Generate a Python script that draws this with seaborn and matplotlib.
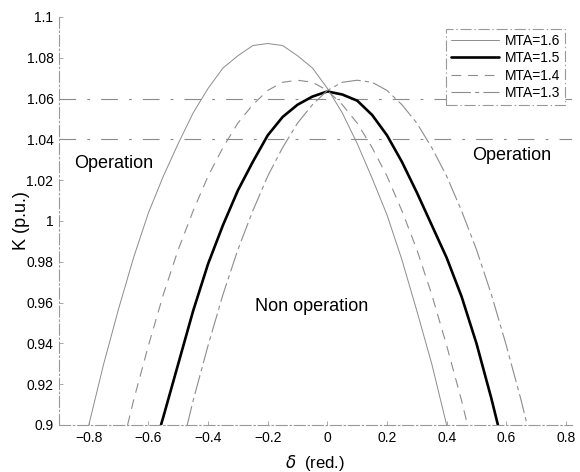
import matplotlib
matplotlib.use("Agg")
import matplotlib.pyplot as plt
import numpy as np
import pandas as pd
import seaborn as sns

# Load-angle grid (rad.) and K (p.u.) for each MTA setting
delta_16 = [-0.80, -0.75, -0.70, -0.65, -0.60, -0.55, -0.50, -0.45, -0.40, -0.35, -0.30,
            -0.25, -0.20, -0.15, -0.10, -0.05, 0.00, 0.05, 0.10, 0.15, 0.20, 0.25, 0.30,
            0.35, 0.40]
k_16 = [0.900, 0.930, 0.957, 0.982, 1.004, 1.022, 1.038, 1.053, 1.065, 1.075, 1.081,
        1.086, 1.087, 1.086, 1.081, 1.075, 1.065, 1.053, 1.038, 1.021, 1.003, 0.981, 0.956,
        0.930, 0.900]

delta_15 = [-0.558, -0.55, -0.50, -0.45, -0.40, -0.35, -0.30, -0.25, -0.20, -0.15, -0.10,
            -0.05, 0.00, 0.05, 0.10, 0.15, 0.20, 0.25, 0.30, 0.35, 0.40, 0.45, 0.50, 0.55,
            0.572]
k_15 = [0.900, 0.904, 0.930, 0.956, 0.979, 0.998, 1.015, 1.029, 1.042, 1.051, 1.057,
        1.061, 1.0635, 1.062, 1.059, 1.052, 1.042, 1.029, 1.014, 0.998, 0.982, 0.963, 0.940,
        0.913, 0.900]

delta_14 = [-0.67, -0.65, -0.60, -0.55, -0.50, -0.45, -0.40, -0.35, -0.30, -0.25, -0.20,
            -0.15, -0.10, -0.05, 0.00, 0.05, 0.10, 0.15, 0.20, 0.25, 0.30, 0.35, 0.40, 0.45,
            0.47]
k_14 = [0.900, 0.912, 0.939, 0.964, 0.986, 1.005, 1.022, 1.036, 1.048, 1.057, 1.064,
        1.068, 1.069, 1.068, 1.064, 1.057, 1.048, 1.036, 1.022, 1.005, 0.986, 0.964, 0.939,
        0.912, 0.900]

delta_13 = [-0.47, -0.45, -0.40, -0.35, -0.30, -0.25, -0.20, -0.15, -0.10, -0.05, 0.00,
            0.05, 0.10, 0.15, 0.20, 0.25, 0.30, 0.35, 0.40, 0.45, 0.50, 0.55, 0.60, 0.65,
            0.67]
k_13 = [0.900, 0.912, 0.939, 0.964, 0.986, 1.005, 1.022, 1.036, 1.048, 1.057, 1.064,
        1.068, 1.069, 1.068, 1.064, 1.057, 1.048, 1.036, 1.022, 1.005, 0.986, 0.964, 0.939,
        0.912, 0.900]

labels = ["MTA=1.6", "MTA=1.5", "MTA=1.4", "MTA=1.3"]
thresholds = [1.06, 1.04]
x_ticks = [-0.8, -0.6, -0.4, -0.2, 0, 0.2, 0.4, 0.6, 0.8]
y_ticks = [0.9, 0.92, 0.94, 0.96, 0.98, 1.0, 1.02, 1.04, 1.06, 1.08, 1.1]

sns.set_style("ticks")
plt.rcParams["font.family"] = ["Liberation Sans", "DejaVu Sans"]
plt.rcParams["lines.scale_dashes"] = False
plt.rcParams["text.color"] = "black"
plt.rcParams["axes.labelcolor"] = "black"
plt.rcParams["xtick.labelcolor"] = "black"
plt.rcParams["ytick.labelcolor"] = "black"

fig = plt.figure(figsize=(5.8, 4.72), dpi=100)
ax = fig.add_axes([0.1017, 0.0996, 0.8843, 0.8644])

curves = [
    (delta_16, k_16, dict(color="#8c8c8c", lw=0.7, ls="-")),
    (delta_15, k_15, dict(color="black", lw=1.9, ls="-")),
    (delta_14, k_14, dict(color="#8c8c8c", lw=0.8, ls=(0, (7, 5)))),
    (delta_13, k_13, dict(color="#8c8c8c", lw=0.8, ls=(0, (14, 3, 3, 3)))),
]
for (d, k, style), lab in zip(curves, labels):
    df = pd.DataFrame({"delta": d, "K": k})
    sns.lineplot(data=df, x="delta", y="K", ax=ax, sort=False, estimator=None,
                 color=style["color"], linewidth=style["lw"], linestyle=style["ls"],
                 label=lab)

for t in thresholds:
    ax.axhline(t, color="#8a8a8a", lw=0.8, ls=(0, (12, 8, 2, 8)), zorder=1)

ax.set_xlim(-0.9, 0.82)
ax.set_ylim(0.9, 1.1)
ax.set_xticks(x_ticks)
ax.set_xticklabels([f"{v:g}".replace("-", "\u2212") for v in x_ticks])
ax.set_yticks(y_ticks)
ax.set_yticklabels([f"{v:g}" for v in y_ticks])
ax.tick_params(direction="in", length=3, width=0.6, color="#999999",
               labelsize=10, pad=4, labelcolor="black")

for side in ["top", "right"]:
    ax.spines[side].set_visible(False)
for side in ["left", "bottom"]:
    ax.spines[side].set_color("#999999")
    ax.spines[side].set_linewidth(0.8)
    ax.spines[side].set_linestyle((0, (8, 2, 1, 2)))

ax.set_xlabel(r"$\delta$  (red.)", fontsize=12, color="black")
ax.set_ylabel("K (p.u.)", fontsize=13, color="black")
ax.xaxis.set_label_coords(0.5, -0.068)
ax.yaxis.set_label_coords(-0.057, 0.5)

ax.text(-0.85, 1.028, "Operation", fontsize=13, ha="left", va="center", color="black")
ax.text(0.485, 1.032, "Operation", fontsize=13, ha="left", va="center", color="black")
ax.text(-0.053, 0.958, "Non operation", fontsize=13, ha="center", va="center",
        color="black")

leg = ax.legend(loc="upper right", bbox_to_anchor=(565 / 580, 1 - 29 / 472),
                bbox_transform=fig.transFigure, fontsize=10, frameon=True,
                fancybox=False, handlelength=3.4, handletextpad=0.45,
                labelspacing=0.25, borderpad=0.35, borderaxespad=0.0,
                labelcolor="black")
frame = leg.get_frame()
frame.set_edgecolor("#999999")
frame.set_linewidth(0.8)
frame.set_linestyle((0, (8, 2, 1, 2)))
frame.set_facecolor("white")
frame.set_alpha(1)

fig.savefig("out.png", dpi=100)
